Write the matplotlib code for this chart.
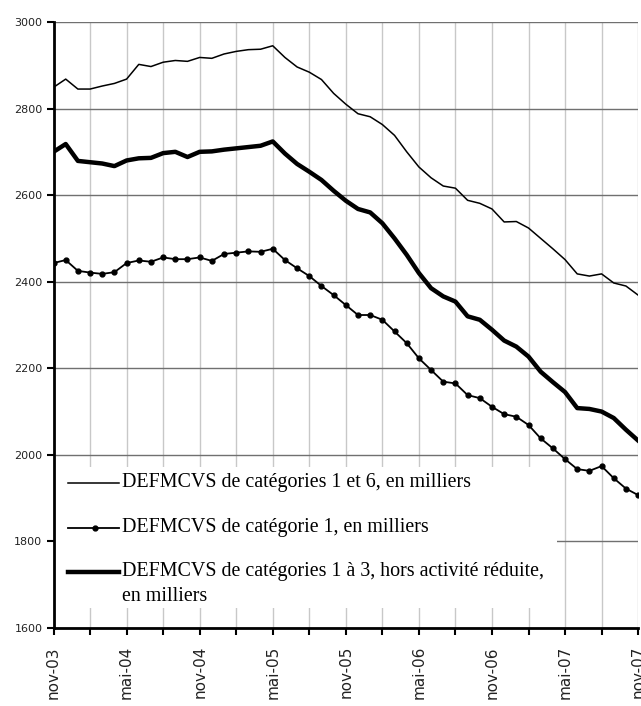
import matplotlib
matplotlib.use("Agg")
import matplotlib.pyplot as plt
from matplotlib.patches import Rectangle
from matplotlib.lines import Line2D

# mois de nov-03 à nov-07
mois = list(range(49))
etiquettes = ["nov-03", "", "mai-04", "", "nov-04", "", "mai-05", "", "nov-05", "",
              "mai-06", "", "nov-06", "", "mai-07", "", "nov-07"]

# DEFMCVS de catégories 1 et 6, en milliers
cat_1_6 = [2849, 2868, 2845, 2845, 2852, 2858, 2868, 2902, 2897, 2907,
           2911, 2909, 2918, 2916, 2926, 2932, 2936, 2937, 2945, 2918,
           2896, 2884, 2867, 2835, 2810, 2788, 2781, 2763, 2738, 2700,
           2665, 2640, 2621, 2616, 2588, 2581, 2568, 2538, 2539, 2524,
           2500, 2476, 2451, 2418, 2413, 2418, 2397, 2390, 2369]

# DEFMCVS de catégorie 1, en milliers
cat_1 = [2443, 2450, 2425, 2421, 2418, 2422, 2443, 2449, 2446, 2456,
         2452, 2452, 2456, 2448, 2464, 2467, 2470, 2469, 2476, 2450,
         2431, 2413, 2390, 2369, 2346, 2323, 2323, 2312, 2285, 2258,
         2223, 2196, 2169, 2165, 2138, 2131, 2111, 2094, 2088, 2069,
         2038, 2015, 1990, 1967, 1963, 1974, 1946, 1922, 1907]

# DEFMCVS de catégories 1 à 3, hors activité réduite, en milliers
cat_1_3 = [2700, 2718, 2679, 2676, 2673, 2667, 2680, 2685, 2686, 2697,
           2700, 2688, 2700, 2701, 2705, 2708, 2711, 2714, 2724, 2696,
           2672, 2654, 2635, 2610, 2587, 2568, 2560, 2535, 2500, 2462,
           2420, 2385, 2366, 2354, 2320, 2312, 2289, 2264, 2250, 2227,
           2192, 2168, 2145, 2108, 2106, 2100, 2085, 2058, 2033]

libelles = ["DEFMCVS de catégories 1 et 6, en milliers",
            "DEFMCVS de catégorie 1, en milliers",
            "DEFMCVS de catégories 1 à 3, hors activité réduite,"]

fig = plt.figure(figsize=(6.41, 7.06), dpi=100)
ax = fig.add_axes([0.0835, 0.1105, 0.912, 0.8584])

ax.plot(mois, cat_1_6, color="black", lw=1.1, zorder=3)
ax.plot(mois, cat_1, color="black", lw=1.3, marker="o", ms=3.5, zorder=3)
ax.plot(mois, cat_1_3, color="black", lw=3.2, zorder=3)

ax.set_xlim(0, 48)
ax.set_ylim(1600, 3000)
ax.set_yticks(range(1600, 3001, 200))
ax.set_xticks(range(0, 49, 3))
ax.set_xticklabels(etiquettes, rotation=90, fontsize=11, color="#222222")
for t in ax.get_yticklabels():
    t.set_fontsize(8)
    t.set_color("#222222")

ax.tick_params(axis="x", direction="out", length=5, width=1.5, pad=8)
ax.tick_params(axis="y", direction="out", length=5, width=1.5, pad=3)

# grilles : horizontales foncées, verticales claires
ax.set_axisbelow(True)
ax.yaxis.grid(True, color="#707070", lw=1.0)
ax.xaxis.grid(True, color="#c8c8c8", lw=1.0)

for s in ["top", "right"]:
    ax.spines[s].set_visible(False)
ax.spines["left"].set_linewidth(2)
ax.spines["bottom"].set_linewidth(2)

# légende dessinée à la main (fond blanc qui masque la grille)
ax.add_patch(Rectangle((0, 0.033), 0.861, 0.233, transform=ax.transAxes,
                       facecolor="white", edgecolor="none", zorder=2))
ys = [0.2393, 0.165, 0.0924]
styles = [dict(lw=1.1), dict(lw=1.3, marker="o", ms=3.5, markevery=[1]),
          dict(lw=3.2)]
for y, lab, st in zip(ys, libelles, styles):
    ax.add_line(Line2D([0.025, 0.071, 0.112], [y, y, y], color="black",
                       transform=ax.transAxes, zorder=4, **st))
    ax.text(0.117, y, lab, transform=ax.transAxes, fontsize=14.4,
            family="Liberation Serif", va="center", ha="left", zorder=4)
ax.text(0.117, 0.0512, "en milliers", transform=ax.transAxes, fontsize=14.4,
        family="Liberation Serif", va="center", ha="left", zorder=4)

fig.savefig("out.png", dpi=100)
